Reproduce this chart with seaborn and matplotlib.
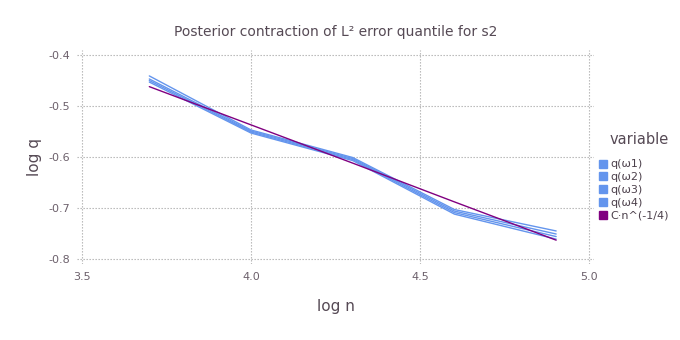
import pandas as pd
import numpy as np
import matplotlib.pyplot as plt
import seaborn as sns
from matplotlib.lines import Line2D

# log10 of sample sizes
log_n = [3.699, 4.0, 4.301, 4.602, 4.903]

q1 = [-0.441, -0.547, -0.601, -0.703, -0.745]
q2 = [-0.447, -0.549, -0.603, -0.706, -0.751]
q3 = [-0.450, -0.551, -0.605, -0.709, -0.756]
q4 = [-0.453, -0.553, -0.607, -0.712, -0.761]
ref = [-0.462, -0.537, -0.612, -0.688, -0.763]

names = ["q(ω1)", "q(ω2)", "q(ω3)", "q(ω4)", "C·n^(-1/4)"]
series = [q1, q2, q3, q4, ref]

df = pd.concat([pd.DataFrame({"log n": log_n, "log q": s, "variable": nm})
                for nm, s in zip(names, series)], ignore_index=True)

blue = "#6495ed"
purple = "#800080"
palette = {nm: blue for nm in names[:4]}
palette[names[4]] = purple

sns.set_style("white")
plt.rcParams['font.family'] = ['DejaVu Sans']

fig = plt.figure(figsize=(6.8, 3.4), dpi=100)
ax = fig.add_axes([77 / 680, 0.2232, 517 / 680, 0.63])

sns.lineplot(data=df, x="log n", y="log q", hue="variable", palette=palette,
             linewidth=1.0, legend=False, ax=ax, sort=False)

ax.set_xlim(3.485, 5.015)
ax.set_ylim(-0.81, -0.39)
ax.set_xticks([3.5, 4.0, 4.5, 5.0])
ax.set_xticklabels(["3.5", "4.0", "4.5", "5.0"])
ax.set_yticks([-0.8, -0.7, -0.6, -0.5, -0.4])
ax.set_yticklabels(["-0.8", "-0.7", "-0.6", "-0.5", "-0.4"])
ax.grid(True, color="#b0b0b0", linestyle=(0, (1.2, 1.5)), linewidth=0.8)
for sp in ax.spines.values():
    sp.set_visible(False)
ax.tick_params(length=0, labelsize=8, labelcolor="#6c606b")
ax.tick_params(axis="x", pad=5.5)
ax.tick_params(axis="y", pad=5)
ax.set_xlabel("log n", fontsize=11, color="#564a55", labelpad=12.5)
ax.set_ylabel("log q", fontsize=11, color="#564a55", labelpad=4.5)
ax.set_title("Posterior contraction of L² error quantile for s2", fontsize=10,
             color="#564a55", pad=10)

handles = [Line2D([], [], marker="s", linestyle="none", markersize=5.5,
                  markerfacecolor=palette[nm], markeredgecolor=palette[nm]) for nm in names]
fig.text(610 / 680, 1 - 140 / 340, "variable", fontsize=10.5, color="#564a55",
         va="center", ha="left")
leg = fig.legend(handles, names, loc="upper left",
                 bbox_to_anchor=(594 / 680, 1 - 155 / 340), frameon=False,
                 fontsize=8, handlelength=0.8,
                 handletextpad=0.3, labelspacing=0.25, borderaxespad=0)
for t in leg.get_texts():
    t.set_color("#4c404b")

fig.savefig("out.png", dpi=100)
